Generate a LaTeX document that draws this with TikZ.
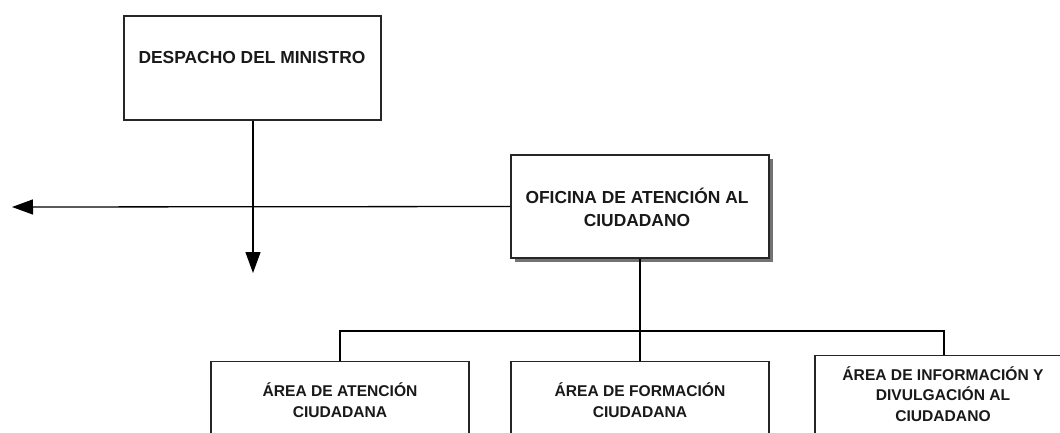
\documentclass[tikz,border=0pt]{standalone}
\usepackage{fontspec}
\setmainfont{Liberation Sans}
\usetikzlibrary{arrows.meta,shadows}
\tikzset{
  box/.style={draw=black!85, line width=1.4pt, fill=white, minimum width=258pt, inner sep=0pt},
  lbl/.style={align=center, inner sep=0pt, text=black!90},
  bigtxt/.style={font=\fontsize{17.4}{23}\selectfont\bfseries},
  smalltxt/.style={font=\fontsize{15.6}{20.5}\selectfont\bfseries},
  conn/.style={draw=black, line width=1.3pt},
  tip/.style={-{Triangle[length=21pt,width=15pt]}},
}
\begin{document}
\begin{tikzpicture}[x=1pt,y=-1pt]
\useasboundingbox (0,0) rectangle (1060,432);
\clip (0,0) rectangle (1060,432);
% boxes
\node[box, minimum width=257pt, minimum height=104pt] (desp) at (252.5,68) {};
\node[box, minimum height=103pt, drop shadow={shadow xshift=4pt, shadow yshift=-4pt, opacity=1, fill=black!55}] (oac) at (640,206.5) {};
\node[box, minimum height=120pt, anchor=north] (a1) at (340,361) {};
\node[box, minimum height=120pt, anchor=north] (a2) at (640,361) {};
\node[box, minimum height=120pt, anchor=north] (a3) at (944,355) {};
% texts
\node[lbl, bigtxt] (desp-t) at (252,58) {DESPACHO DEL MINISTRO};
\node[lbl, bigtxt] (oac-t) at (637,207) {OFICINA DE ATENCIÓN AL\\CIUDADANO};
\node[lbl, smalltxt] (a1-t) at (340,400) {ÁREA DE ATENCIÓN\\CIUDADANA};
\node[lbl, smalltxt] (a2-t) at (640,400) {ÁREA DE FORMACIÓN\\CIUDADANA};
\node[lbl, smalltxt] (a3-t) at (943,394) {ÁREA DE INFORMACIÓN Y\\DIVULGACIÓN AL\\CIUDADANO};
% connectors
\coordinate (down) at (253,273);
\coordinate (left) at (12,207);
\coordinate (bus) at (640,331);
\draw[conn, tip] (desp.south -| down) -- (down);
\draw[conn, tip] (oac.west) -- (left);
\draw[conn] (oac.south) -- (bus);
\draw[conn] (bus) -- (a2.north);
\draw[conn] (a1.north) |- (bus);
\draw[conn] (a3.north) |- (bus);
\end{tikzpicture}
\end{document}
